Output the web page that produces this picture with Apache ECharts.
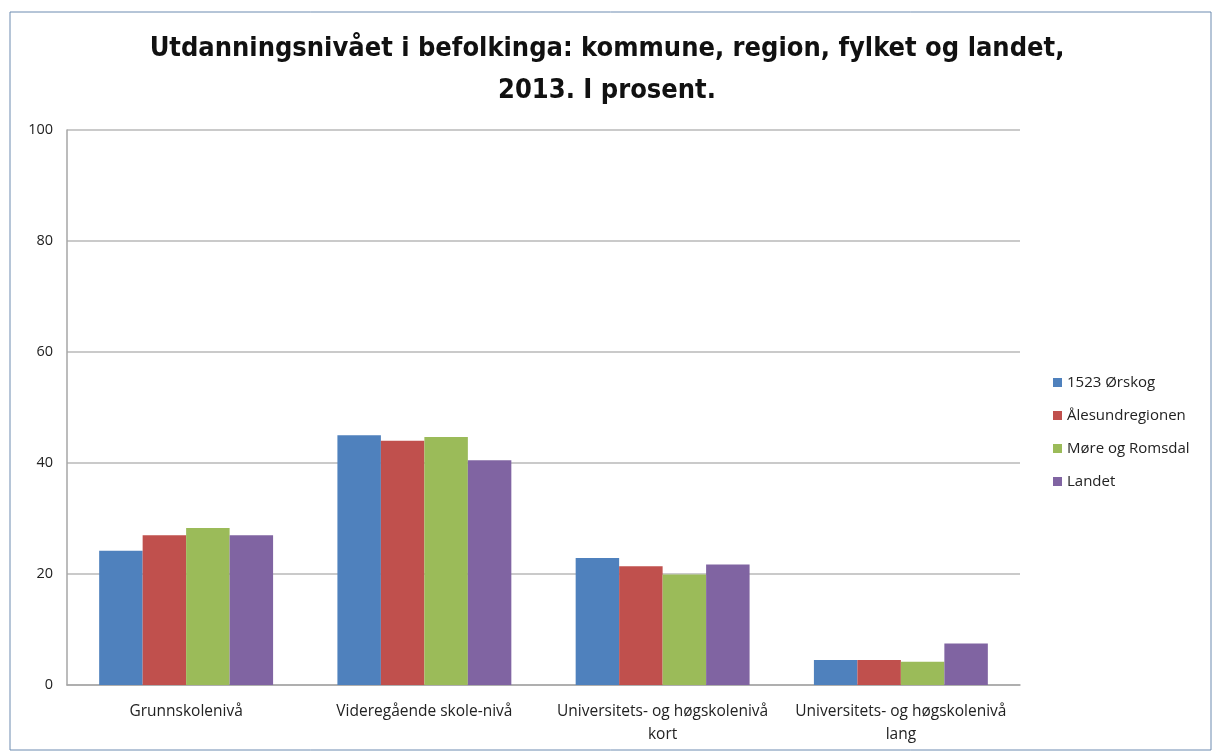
<!DOCTYPE html>
<html>
<head>
<meta charset="utf-8">
<script src="https://cdn.jsdelivr.net/npm/echarts@6/dist/echarts.min.js"></script>
<style>
html, body {margin: 0; padding: 0; background: #fff;}
#chart_main {width: 1214px; height: 755px;}
</style>
</head>
<body>
<div id="chart_main"></div>
<script>
// data
var categories = ['Grunnskolenivå', 'Videregående skole-nivå', 'Universitets- og høgskolenivå\nkort', 'Universitets- og høgskolenivå\nlang'];
var seriesNames = ['1523 Ørskog', 'Ålesundregionen', 'Møre og Romsdal', 'Landet'];
var orskog = [24.2, 45.0, 22.9, 4.5];
var alesund = [27.0, 44.0, 21.4, 4.5];
var moreRomsdal = [28.3, 44.7, 19.9, 4.2];
var landet = [27.0, 40.5, 21.7, 7.5];
var yTicks = [0, 20, 40, 60, 80, 100];

var colors = ['#4F81BD', '#C0504D', '#9BBB59', '#8064A2'];
var values = [orskog, alesund, moreRomsdal, landet];

var chart = echarts.init(document.getElementById('chart_main'));
var series = [];
for (var i = 0; i < seriesNames.length; i++) {
    series.push({
        name: seriesNames[i],
        type: 'bar',
        data: values[i],
        barGap: '0%',
        barCategoryGap: '27%',
        itemStyle: {color: colors[i]}
    });
}

var option = {
    animation: false,
    textStyle: {fontFamily: 'Open Sans'},
    graphic: [{
        type: 'rect',
        shape: {x: 10, y: 12, width: 1201, height: 738},
        style: {fill: 'none', stroke: '#6d8bb0', lineWidth: 1}
    }],
    title: {
        text: 'Utdanningsnivået i befolkinga: kommune, region, fylket og landet,\n2013. I prosent.',
        left: 'center',
        top: 23,
        textStyle: {fontFamily: 'DejaVu Sans Condensed', fontSize: 27, fontWeight: 'bold', color: '#111', lineHeight: 42}
    },
    legend: {
        orient: 'vertical',
        left: 1048,
        top: 370,
        itemWidth: 9,
        itemHeight: 9,
        itemGap: 18,
        icon: 'rect',
        textStyle: {fontSize: 15, color: '#222'},
        data: seriesNames
    },
    grid: {left: 67, right: 194, top: 130, bottom: 70, containLabel: false},
    xAxis: {
        type: 'category',
        data: categories,
        axisLine: {lineStyle: {color: '#a6a6a6', width: 1.5}},
        axisTick: {show: false},
        axisLabel: {fontSize: 15.5, color: '#222', margin: 15, lineHeight: 23, interval: 0}
    },
    yAxis: {
        type: 'value',
        min: yTicks[0],
        max: yTicks[yTicks.length - 1],
        interval: 20,
        axisLine: {show: true, lineStyle: {color: '#a6a6a6', width: 1.5}},
        axisTick: {show: false},
        splitLine: {lineStyle: {color: '#b8b8b8', width: 1.5}},
        axisLabel: {fontSize: 14.5, color: '#222', margin: 14}
    },
    series: series
};
chart.setOption(option);
</script>
</body>
</html>
